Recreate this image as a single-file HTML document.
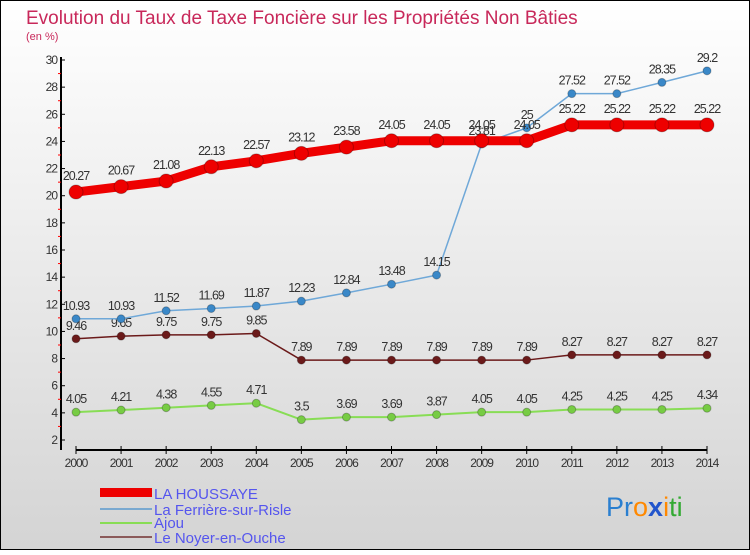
<!DOCTYPE html>
<html><head><meta charset="utf-8"><style>
body{margin:0}
#c{width:750px;height:550px;position:relative;font-family:"Liberation Sans",sans-serif}
</style></head><body>
<div id="c">
<svg id="s" width="750" height="550" xmlns="http://www.w3.org/2000/svg">
<defs><linearGradient id="bg" x1="0" y1="0" x2="0" y2="1"><stop offset="0" stop-color="#ffffff"/><stop offset="1" stop-color="#d4d4d4"/></linearGradient></defs>
<rect x="0.5" y="0.5" width="749" height="549" fill="url(#bg)" stroke="#000"/>
<text x="26" y="24" font-size="19" fill="#c8285a">Evolution du Taux de Taxe Foncière sur les Propriétés Non Bâties</text>
<text x="26" y="40" font-size="11" fill="#c8285a">(en %)</text>
<g id="axes"></g><g id="plot"></g>
<g>
<rect x="100" y="488" width="52" height="9" fill="#ee0000"/>
<text x="154" y="499" font-size="15" fill="#5555ee">LA HOUSSAYE</text>
<line x1="100" y1="509" x2="152" y2="509" stroke="#7aa9d0" stroke-width="2"/>
<text x="154" y="515" font-size="15" fill="#5555ee">La Ferrière-sur-Risle</text>
<line x1="100" y1="523" x2="152" y2="523" stroke="#88dd55" stroke-width="2"/>
<text x="154" y="528" font-size="15" fill="#5555ee">Ajou</text>
<line x1="100" y1="537" x2="152" y2="537" stroke="#8b5a5a" stroke-width="2"/>
<text x="154" y="543" font-size="15" fill="#5555ee">Le Noyer-en-Ouche</text>
</g>
<text x="606" y="516" font-size="27"><tspan fill="#2a7fd0">Pr</tspan><tspan fill="#ff8800">o</tspan><tspan fill="#2255cc" font-weight="bold">x</tspan><tspan fill="#ff8800">i</tspan><tspan fill="#33aa33">ti</tspan></text>
</svg></div>
<script>
const years=[2000,2001,2002,2003,2004,2005,2006,2007,2008,2009,2010,2011,2012,2013,2014];
const houssaye=[20.27,20.67,21.08,22.13,22.57,23.12,23.58,24.05,24.05,24.05,24.05,25.22,25.22,25.22,25.22];
const ferriere=[10.93,10.93,11.52,11.69,11.87,12.23,12.84,13.48,14.15,23.81,25,27.52,27.52,28.35,29.2];
const ajou=[4.05,4.21,4.38,4.55,4.71,3.5,3.69,3.69,3.87,4.05,4.05,4.25,4.25,4.25,4.34];
const noyer=[9.46,9.65,9.75,9.75,9.85,7.89,7.89,7.89,7.89,7.89,7.89,8.27,8.27,8.27,8.27];
const yTicks=[2,4,6,8,10,12,14,16,18,20,22,24,26,28,30];
const NS="http://www.w3.org/2000/svg";
const X=i=>76+i*(707-76)/(years.length-1);
const Y=v=>440-(v-2)*(380/28);
function mk(p,t,a){const e=document.createElementNS(NS,t);for(const k in a)e.setAttribute(k,a[k]);p.appendChild(e);return e;}
const ax=document.getElementById('axes'),pl=document.getElementById('plot');
let yl=mk(ax,'line',{x1:61,y1:Y(30)-3,x2:61,y2:450,stroke:'#000','stroke-width':2});


let xl=mk(ax,'line',{x1:X(0),y1:450,x2:X(14),y2:450,stroke:'#000','stroke-width':2});


yTicks.forEach(v=>{
 mk(ax,'line',{x1:61,y1:Y(v),x2:65,y2:Y(v),stroke:'#000'});
 if(v<30)mk(ax,'line',{x1:58,y1:Y(v+1),x2:61,y2:Y(v+1),stroke:'#f00'});
 const t=mk(ax,'text',{x:57,y:Y(v)+4,'text-anchor':'end','font-size':12,fill:'#333','letter-spacing':'-1'});t.textContent=v;
 
 
});
years.forEach((y,i)=>{
 mk(ax,'line',{x1:X(i),y1:446,x2:X(i),y2:454,stroke:'#000'});
 const t=mk(ax,'text',{x:X(i),y:467,'text-anchor':'middle','font-size':12,fill:'#333','letter-spacing':'-1'});t.textContent=y;
 
 
});
function series(name,data,color,w,r,dot){
 const g=mk(pl,'g',{});
 
 
 mk(g,'polyline',{points:data.map((v,i)=>X(i)+','+Y(v)).join(' '),fill:'none',stroke:color,'stroke-width':w,'stroke-linejoin':'round'});
 data.forEach((v,i)=>{
  const c=mk(g,'circle',{cx:X(i),cy:Y(v),r:r,fill:dot,stroke:'rgba(0,0,0,0.25)'});
  
  
  const t=mk(g,'text',{x:X(i),y:Y(v)-(r+5),'text-anchor':'middle','font-size':12.5,fill:'#333','letter-spacing':'-1'});t.textContent=v;
  
  
 });
}
series('ajou-series',ajou,'#88dd55',2,4,'#77cc44');
series('noyer-series',noyer,'#6b1a1a',1.5,4,'#6b1a1a');
series('ferriere-series',ferriere,'#6fa8d8',1.5,4,'#3a88c8');
series('houssaye-series',houssaye,'#ee0000',9,7,'#ee0000');
</script>
</body></html>
